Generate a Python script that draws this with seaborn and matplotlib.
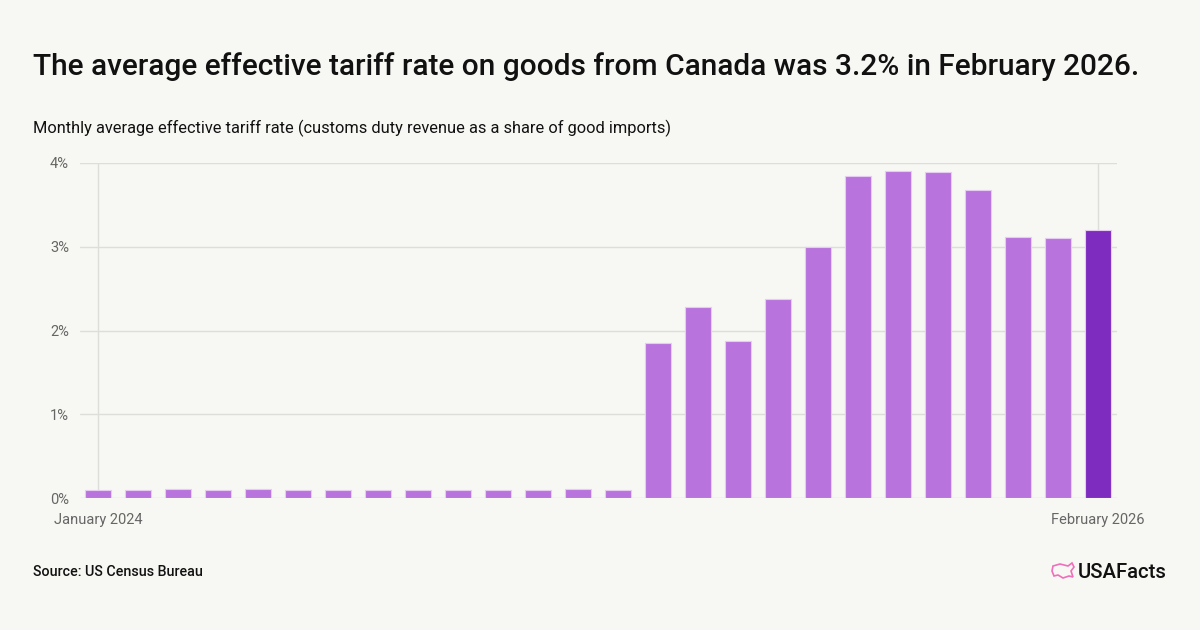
import matplotlib
matplotlib.use("Agg")
import matplotlib.pyplot as plt
from matplotlib.patches import Polygon
import seaborn as sns
import pandas as pd

months = ["Jan 2024", "Feb 2024", "Mar 2024", "Apr 2024", "May 2024", "Jun 2024",
          "Jul 2024", "Aug 2024", "Sep 2024", "Oct 2024", "Nov 2024", "Dec 2024",
          "Jan 2025", "Feb 2025", "Mar 2025", "Apr 2025", "May 2025", "Jun 2025",
          "Jul 2025", "Aug 2025", "Sep 2025", "Oct 2025", "Nov 2025", "Dec 2025",
          "Jan 2026", "Feb 2026"]
rates = [0.10, 0.09, 0.11, 0.10, 0.11, 0.10, 0.10, 0.09, 0.09, 0.10, 0.09, 0.09,
         0.11, 0.10, 1.85, 2.28, 1.87, 2.38, 3.00, 3.85, 3.91, 3.89, 3.68, 3.12,
         3.10, 3.20]
highlight = ["past"] * 25 + ["latest"]
tick_labels = ["January 2024", "February 2026"]
y_ticks = [0, 1, 2, 3, 4]

df = pd.DataFrame({"month": months, "rate": rates, "group": highlight})

BG = "#F7F7F3"
LIGHT = "#B873DC"
DARK = "#7E2CBF"
GRID = "#DDDDDA"
W, H = 1200, 630

sns.set_theme(style="white")
plt.rcParams["font.family"] = ["Roboto", "DejaVu Sans"]

fig = plt.figure(figsize=(12, 6.3), dpi=100, facecolor=BG)
ax = fig.add_axes([80 / W, 1 - 498 / H, (1117 - 80) / W, (498 - 163) / H])
ax.set_facecolor(BG)

sns.barplot(data=df, x="month", y="rate", hue="group",
            palette={"past": LIGHT, "latest": DARK}, width=0.65, saturation=1,
            edgecolor="#E6CCF2", linewidth=0.8, legend=False, ax=ax, zorder=3)

ax.set_ylim(0, 4)
ax.set_xlim(-0.45, len(months) - 1 + 0.475)
ax.set_yticks(y_ticks)
ax.set_yticklabels([f"{v}%" for v in y_ticks])
ax.set_xticks([0, len(months) - 1])
ax.set_xticklabels(tick_labels)
ax.set_xlabel("")
ax.set_ylabel("")
ax.grid(True, axis="both", color=GRID, linewidth=1, zorder=0)
for s in ax.spines.values():
    s.set_visible(False)
ax.tick_params(axis="both", length=0, labelsize=10.5, labelcolor="#666666")
ax.tick_params(axis="y", pad=8)
ax.tick_params(axis="x", pad=11)

renderer = fig.canvas.get_renderer()


def fit_text(x0, yc, s, target_w, size, weight, ha="left"):
    t = fig.text(x0 / W, 1 - yc / H, s, fontsize=size, fontweight=weight,
                 color="#111111", va="center", ha=ha)
    w = t.get_window_extent(renderer).width
    t.set_fontsize(size * target_w / w)
    return t


fit_text(33, 67, "The average effective tariff rate on goods from Canada was 3.2% in February 2026.",
         1104, 21, "medium")
fit_text(33, 128, "Monthly average effective tariff rate (customs duty revenue as a share of good imports)",
         642, 11.5, "normal")
fit_text(33, 572, "Source: US Census Bureau", 169, 10, "medium")
fit_text(1167, 572, "USAFacts", 89, 15, "medium", ha="right")

# USAFacts logo mark (rough US outline)
pts = [(1053, 566), (1060, 564), (1068, 566), (1072, 563), (1074, 567), (1071, 571),
       (1073, 577), (1069, 576), (1063, 578), (1058, 575), (1054, 576), (1052, 571)]
logo = Polygon([(x / W, 1 - y / H) for x, y in pts], closed=True, fill=False,
               edgecolor="#F06EBB", linewidth=1.2, transform=fig.transFigure)
fig.add_artist(logo)

fig.savefig("out.png", dpi=100, facecolor=BG)
